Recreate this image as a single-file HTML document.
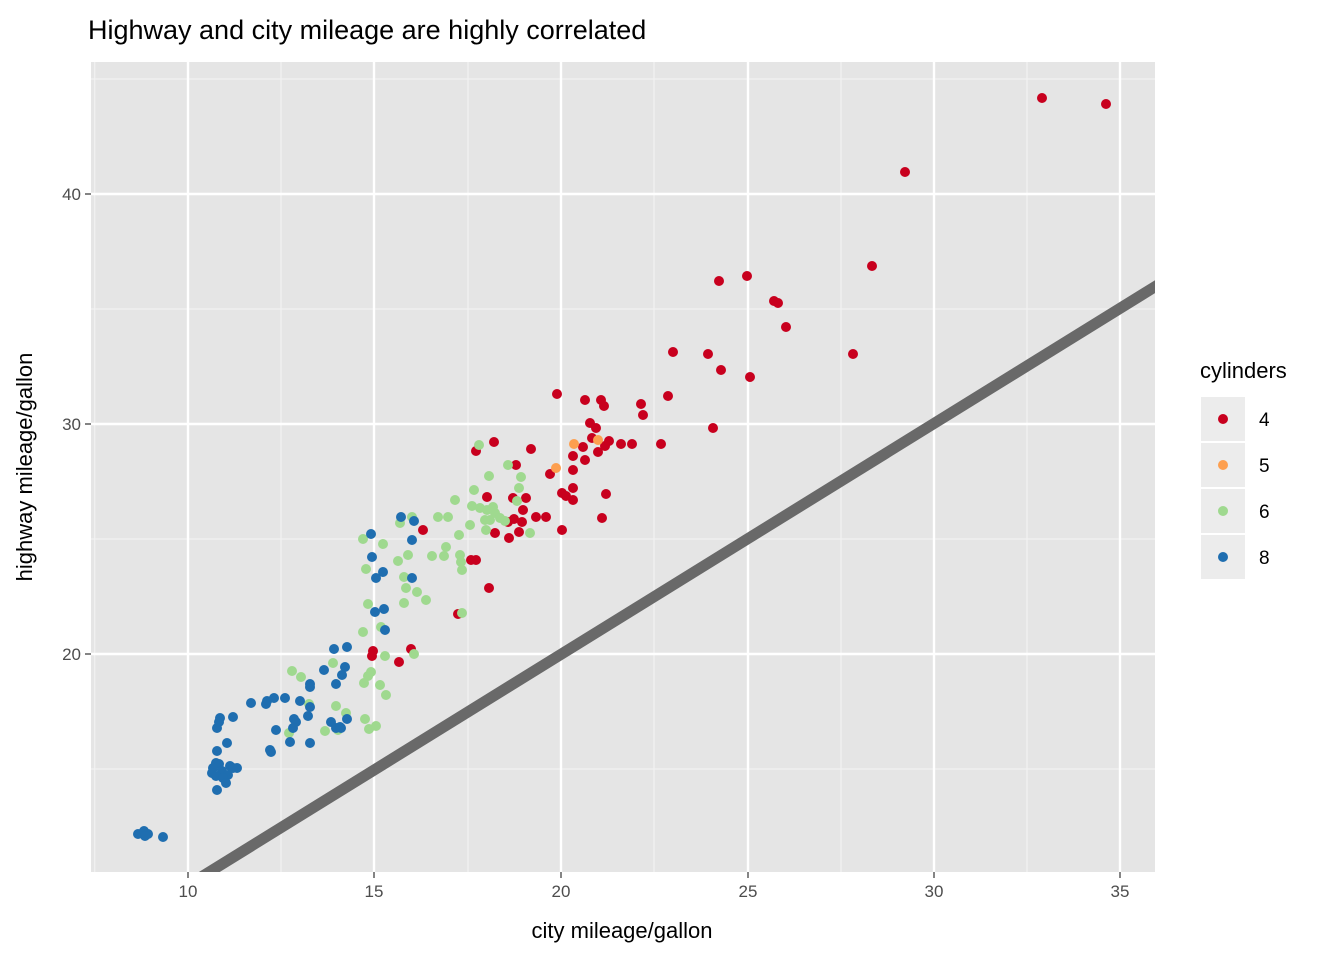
<!DOCTYPE html>
<html><head><meta charset="utf-8"><style>body{margin:0;background:#fff}svg{display:block;font-family:"Liberation Sans",Arial,sans-serif}</style></head><body>
<svg width="1344" height="960" viewBox="0 0 1344 960">
<rect x="91" y="62" width="1064" height="810" fill="#e5e5e5"/>
<g stroke="#f2f2f2" stroke-width="1.2">
<line x1="94.7" y1="62" x2="94.7" y2="872"/><line x1="281" y1="62" x2="281" y2="872"/><line x1="468" y1="62" x2="468" y2="872"/><line x1="654" y1="62" x2="654" y2="872"/><line x1="841" y1="62" x2="841" y2="872"/><line x1="1027" y1="62" x2="1027" y2="872"/>
<line x1="91" y1="769" x2="1155" y2="769"/><line x1="91" y1="539" x2="1155" y2="539"/><line x1="91" y1="309" x2="1155" y2="309"/><line x1="91" y1="79" x2="1155" y2="79"/>
</g>
<g stroke="#fff" stroke-width="2.4">
<line x1="188" y1="62" x2="188" y2="872"/><line x1="374" y1="62" x2="374" y2="872"/><line x1="561" y1="62" x2="561" y2="872"/><line x1="748" y1="62" x2="748" y2="872"/><line x1="934" y1="62" x2="934" y2="872"/><line x1="1120" y1="62" x2="1120" y2="872"/>
<line x1="91" y1="654" x2="1155" y2="654"/><line x1="91" y1="424" x2="1155" y2="424"/><line x1="91" y1="194" x2="1155" y2="194"/>
</g>
<svg x="91" y="62" width="1064" height="810" overflow="hidden"><line x1="107" y1="817" x2="1070" y2="221" stroke="#696969" stroke-width="11"/></svg>
<g fill="#c8001e">
<circle cx="1042" cy="98" r="5"/><circle cx="1106" cy="104" r="5"/><circle cx="905" cy="172" r="5"/><circle cx="872" cy="266" r="5"/><circle cx="719" cy="281" r="5"/><circle cx="747" cy="276" r="5"/><circle cx="774" cy="301" r="5"/><circle cx="778" cy="303" r="5"/><circle cx="786" cy="327" r="5"/><circle cx="853" cy="354" r="5"/><circle cx="673" cy="352" r="5"/><circle cx="708" cy="354" r="5"/><circle cx="721" cy="370" r="5"/><circle cx="750" cy="377" r="5"/><circle cx="668" cy="396" r="5"/><circle cx="641" cy="404" r="5"/><circle cx="643" cy="415" r="5"/><circle cx="713" cy="428" r="5"/><circle cx="557" cy="394" r="5"/><circle cx="585" cy="400" r="5"/><circle cx="601" cy="400" r="5"/><circle cx="604" cy="406" r="5"/><circle cx="590" cy="423" r="5"/><circle cx="592" cy="438" r="5"/><circle cx="596" cy="428" r="5"/><circle cx="598" cy="452" r="5"/><circle cx="583" cy="447" r="5"/><circle cx="609" cy="441" r="5"/><circle cx="605" cy="446" r="5"/><circle cx="621" cy="444" r="5"/><circle cx="632" cy="444" r="5"/><circle cx="661" cy="444" r="5"/><circle cx="573" cy="456" r="5"/><circle cx="573" cy="470" r="5"/><circle cx="550" cy="474" r="5"/><circle cx="585" cy="460" r="5"/><circle cx="573" cy="488" r="5"/><circle cx="562" cy="493" r="5"/><circle cx="566" cy="496" r="5"/><circle cx="606" cy="494" r="5"/><circle cx="573" cy="500" r="5"/><circle cx="516" cy="465" r="5"/><circle cx="494" cy="442" r="5"/><circle cx="476" cy="451" r="5"/><circle cx="487" cy="497" r="5"/><circle cx="513" cy="498" r="5"/><circle cx="523" cy="510" r="5"/><circle cx="514" cy="519" r="5"/><circle cx="522" cy="522" r="5"/><circle cx="508" cy="522" r="5"/><circle cx="526" cy="498" r="5"/><circle cx="536" cy="517" r="5"/><circle cx="546" cy="517" r="5"/><circle cx="531" cy="449" r="5"/><circle cx="602" cy="518" r="5"/><circle cx="562" cy="530" r="5"/><circle cx="509" cy="538" r="5"/><circle cx="519" cy="532" r="5"/><circle cx="495" cy="533" r="5"/><circle cx="423" cy="530" r="5"/><circle cx="476" cy="560" r="5"/><circle cx="471" cy="560" r="5"/><circle cx="489" cy="588" r="5"/><circle cx="458" cy="614" r="5"/><circle cx="373" cy="651" r="5"/><circle cx="372" cy="656" r="5"/><circle cx="399" cy="662" r="5"/><circle cx="411" cy="649" r="5"/>
</g>
<g fill="#fd9f4f"><circle cx="574" cy="444" r="5"/><circle cx="556" cy="468" r="5"/><circle cx="598" cy="440" r="5"/></g>
<g fill="#9fd98f">
<circle cx="479" cy="445" r="5"/><circle cx="508" cy="465" r="5"/><circle cx="489" cy="476" r="5"/><circle cx="474" cy="490" r="5"/><circle cx="455" cy="500" r="5"/><circle cx="472" cy="506" r="5"/><circle cx="480" cy="508" r="5"/><circle cx="487" cy="510" r="5"/><circle cx="495" cy="513" r="5"/><circle cx="500" cy="518" r="5"/><circle cx="505" cy="521" r="5"/><circle cx="490" cy="520" r="5"/><circle cx="486" cy="530" r="5"/><circle cx="530" cy="533" r="5"/><circle cx="517" cy="501" r="5"/><circle cx="521" cy="477" r="5"/><circle cx="519" cy="488" r="5"/><circle cx="412" cy="517" r="5"/><circle cx="400" cy="523" r="5"/><circle cx="383" cy="544" r="5"/><circle cx="363" cy="539" r="5"/><circle cx="448" cy="517" r="5"/><circle cx="438" cy="517" r="5"/><circle cx="432" cy="556" r="5"/><circle cx="444" cy="556" r="5"/><circle cx="460" cy="555" r="5"/><circle cx="461" cy="562" r="5"/><circle cx="462" cy="570" r="5"/><circle cx="446" cy="547" r="5"/><circle cx="459" cy="535" r="5"/><circle cx="398" cy="561" r="5"/><circle cx="408" cy="555" r="5"/><circle cx="404" cy="577" r="5"/><circle cx="406" cy="588" r="5"/><circle cx="404" cy="603" r="5"/><circle cx="417" cy="592" r="5"/><circle cx="426" cy="600" r="5"/><circle cx="366" cy="569" r="5"/><circle cx="368" cy="604" r="5"/><circle cx="462" cy="613" r="5"/><circle cx="363" cy="632" r="5"/><circle cx="381" cy="627" r="5"/><circle cx="414" cy="654" r="5"/><circle cx="385" cy="656" r="5"/><circle cx="292" cy="671" r="5"/><circle cx="301" cy="677" r="5"/><circle cx="333" cy="663" r="5"/><circle cx="368" cy="676" r="5"/><circle cx="364" cy="683" r="5"/><circle cx="371" cy="672" r="5"/><circle cx="380" cy="685" r="5"/><circle cx="386" cy="695" r="5"/><circle cx="336" cy="706" r="5"/><circle cx="309" cy="704" r="5"/><circle cx="325" cy="731" r="5"/><circle cx="338" cy="730" r="5"/><circle cx="365" cy="719" r="5"/><circle cx="369" cy="729" r="5"/><circle cx="376" cy="726" r="5"/><circle cx="346" cy="713" r="5"/><circle cx="289" cy="733" r="5"/><circle cx="470" cy="525" r="5"/><circle cx="485" cy="520" r="5"/><circle cx="493" cy="507" r="5"/>
</g>
<g fill="#1f6eb0">
<circle cx="401" cy="517" r="5"/><circle cx="371" cy="534" r="5"/><circle cx="372" cy="557" r="5"/><circle cx="383" cy="572" r="5"/><circle cx="376" cy="578" r="5"/><circle cx="412" cy="578" r="5"/><circle cx="414" cy="521" r="5"/><circle cx="412" cy="540" r="5"/><circle cx="375" cy="612" r="5"/><circle cx="384" cy="609" r="5"/><circle cx="385" cy="630" r="5"/><circle cx="347" cy="647" r="5"/><circle cx="334" cy="649" r="5"/><circle cx="345" cy="667" r="5"/><circle cx="342" cy="675" r="5"/><circle cx="336" cy="684" r="5"/><circle cx="324" cy="670" r="5"/><circle cx="310" cy="684" r="5"/><circle cx="310" cy="687" r="5"/><circle cx="310" cy="707" r="5"/><circle cx="308" cy="716" r="5"/><circle cx="296" cy="722" r="5"/><circle cx="294" cy="719" r="5"/><circle cx="300" cy="701" r="5"/><circle cx="293" cy="728" r="5"/><circle cx="285" cy="698" r="5"/><circle cx="274" cy="698" r="5"/><circle cx="267" cy="701" r="5"/><circle cx="266" cy="704" r="5"/><circle cx="251" cy="703" r="5"/><circle cx="276" cy="730" r="5"/><circle cx="271" cy="752" r="5"/><circle cx="270" cy="750" r="5"/><circle cx="290" cy="742" r="5"/><circle cx="310" cy="743" r="5"/><circle cx="331" cy="722" r="5"/><circle cx="336" cy="728" r="5"/><circle cx="341" cy="728" r="5"/><circle cx="347" cy="719" r="5"/><circle cx="340" cy="727" r="5"/><circle cx="233" cy="717" r="5"/><circle cx="217" cy="728" r="5"/><circle cx="220" cy="718" r="5"/><circle cx="219" cy="722" r="5"/><circle cx="227" cy="743" r="5"/><circle cx="217" cy="751" r="5"/><circle cx="219" cy="764" r="5"/><circle cx="216" cy="763" r="5"/><circle cx="213" cy="768" r="5"/><circle cx="212" cy="773" r="5"/><circle cx="222" cy="771" r="5"/><circle cx="237" cy="768" r="5"/><circle cx="230" cy="766" r="5"/><circle cx="228" cy="775" r="5"/><circle cx="233" cy="768" r="5"/><circle cx="216" cy="776" r="5"/><circle cx="223" cy="778" r="5"/><circle cx="217" cy="790" r="5"/><circle cx="226" cy="783" r="5"/><circle cx="138" cy="834" r="5"/><circle cx="144" cy="831" r="5"/><circle cx="148" cy="834" r="5"/><circle cx="145" cy="836" r="5"/><circle cx="163" cy="837" r="5"/>
</g>
<g stroke="#333" stroke-width="1.2">
<line x1="188" y1="872" x2="188" y2="878"/><line x1="374" y1="872" x2="374" y2="878"/><line x1="561" y1="872" x2="561" y2="878"/><line x1="748" y1="872" x2="748" y2="878"/><line x1="934" y1="872" x2="934" y2="878"/><line x1="1120" y1="872" x2="1120" y2="878"/>
<line x1="85" y1="654" x2="91" y2="654"/><line x1="85" y1="424" x2="91" y2="424"/><line x1="85" y1="194" x2="91" y2="194"/>
</g>
<g fill="#4d4d4d" font-size="17" text-anchor="middle">
<text x="188" y="897">10</text><text x="374" y="897">15</text><text x="561" y="897">20</text><text x="748" y="897">25</text><text x="934" y="897">30</text><text x="1120" y="897">35</text>
</g>
<g fill="#4d4d4d" font-size="17" text-anchor="end">
<text x="81" y="660">20</text><text x="81" y="430">30</text><text x="81" y="200">40</text>
</g>
<text x="622" y="938" font-size="22" text-anchor="middle" fill="#000">city mileage/gallon</text>
<text transform="translate(32,467) rotate(-90)" font-size="22" text-anchor="middle" fill="#000">highway mileage/gallon</text>
<text x="88" y="39" font-size="27" fill="#000">Highway and city mileage are highly correlated</text>
<text x="1200" y="378" font-size="22" fill="#000">cylinders</text>
<g fill="#ececec"><rect x="1201" y="397" width="44" height="44"/><rect x="1201" y="443" width="44" height="44"/><rect x="1201" y="489" width="44" height="44"/><rect x="1201" y="535" width="44" height="44"/></g>
<circle cx="1223" cy="419" r="5" fill="#c8001e"/><circle cx="1223" cy="465" r="5" fill="#fd9f4f"/><circle cx="1223" cy="511" r="5" fill="#9fd98f"/><circle cx="1223" cy="557" r="5" fill="#1f6eb0"/>
<g font-size="19" fill="#000"><text x="1259" y="426">4</text><text x="1259" y="472">5</text><text x="1259" y="518">6</text><text x="1259" y="564">8</text></g>
</svg>
</body></html>
